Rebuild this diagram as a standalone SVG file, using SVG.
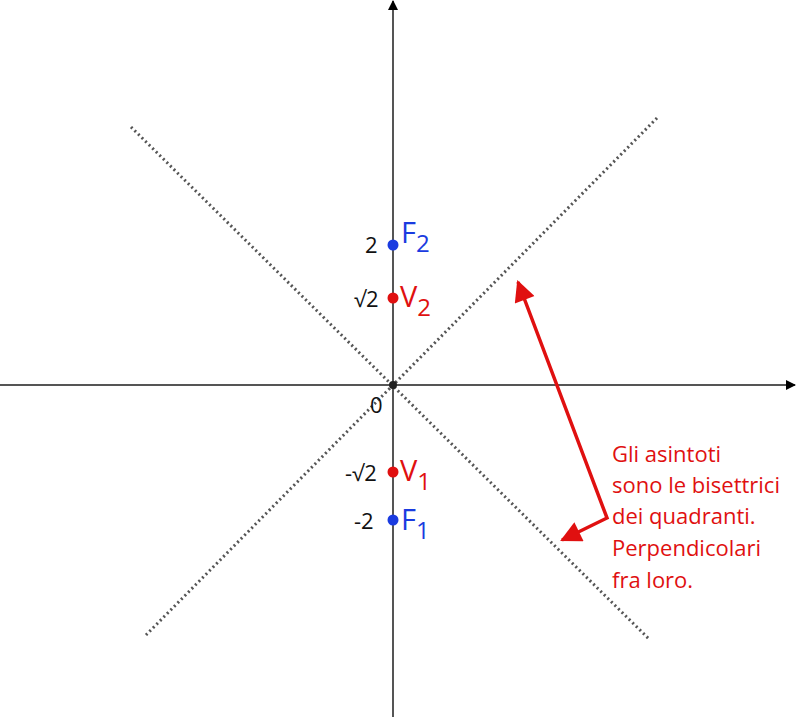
<svg xmlns="http://www.w3.org/2000/svg" width="796" height="717" viewBox="0 0 796 717">
<style>
.ax{stroke:#555;stroke-width:2;fill:none}
.dot{stroke:#555;stroke-width:3;stroke-dasharray:2 3;fill:none}
.t{font-family:"Open Sans","Liberation Sans",Arial,sans-serif;font-size:22px}
.n{font-size:22px}
.big{font-size:29px}.sub{font-size:24px}
.r{fill:#e01010}.b{fill:#1a3be0}.k{fill:#111}
</style>
<defs>
<marker id="ah" viewBox="0 0 10 10" refX="9" refY="5" markerWidth="10" markerHeight="10" markerUnits="userSpaceOnUse" orient="auto"><path d="M0,0 L10,5 L0,10z" fill="#000"/></marker>
<marker id="rh" viewBox="0 0 10 10" refX="9" refY="5" markerWidth="7" markerHeight="6" orient="auto-start-reverse"><path d="M0,0 L10,5 L0,10z" fill="#e01010"/></marker>
</defs>
<g id="axes">
<line class="ax" x1="0" y1="385" x2="795" y2="385" marker-end="url(#ah)"/>
<line class="ax" x1="393" y1="717" x2="393" y2="1" marker-end="url(#ah)"/>
</g>
<g id="asymptotes">
<line class="dot" x1="131" y1="127" x2="650" y2="640"/>
<line class="dot" x1="657" y1="118" x2="146" y2="635"/>
</g>
<g id="origin"><circle cx="393" cy="385" r="4" fill="#222"/><text class="t k n" x="370" y="413">0</text></g>
<g id="F2"><circle cx="393" cy="245" r="5.5" fill="#1a3be0"/><text class="t k n" x="365" y="253">2</text><text class="t b big" x="401" y="243">F<tspan class="sub" dy="9">2</tspan></text></g>
<g id="V2"><circle cx="393" cy="298" r="5.5" fill="#e01010"/><text class="t k n" x="354" y="307">√2</text><text class="t r big" x="400" y="307">V<tspan class="sub" dy="9">2</tspan></text></g>
<g id="V1"><circle cx="393" cy="472" r="5.5" fill="#e01010"/><text class="t k n" x="345" y="481">-√2</text><text class="t r big" x="400" y="481">V<tspan class="sub" dy="9">1</tspan></text></g>
<g id="F1"><circle cx="393" cy="520" r="5.5" fill="#1a3be0"/><text class="t k n" x="354" y="529">-2</text><text class="t b big" x="401" y="530">F<tspan class="sub" dy="9">1</tspan></text></g>
<g id="connectors">
<polyline points="518,282 607,518 562,540" fill="none" stroke="#e01010" stroke-width="3.5" marker-start="url(#rh)" marker-end="url(#rh)"/>
</g>
<g id="note" class="t r">
<text x="612" y="462">Gli asintoti</text>
<text x="612" y="493">sono le bisettrici</text>
<text x="612" y="524">dei quadranti.</text>
<text x="612" y="556">Perpendicolari</text>
<text x="612" y="588">fra loro.</text>
</g>
</svg>
